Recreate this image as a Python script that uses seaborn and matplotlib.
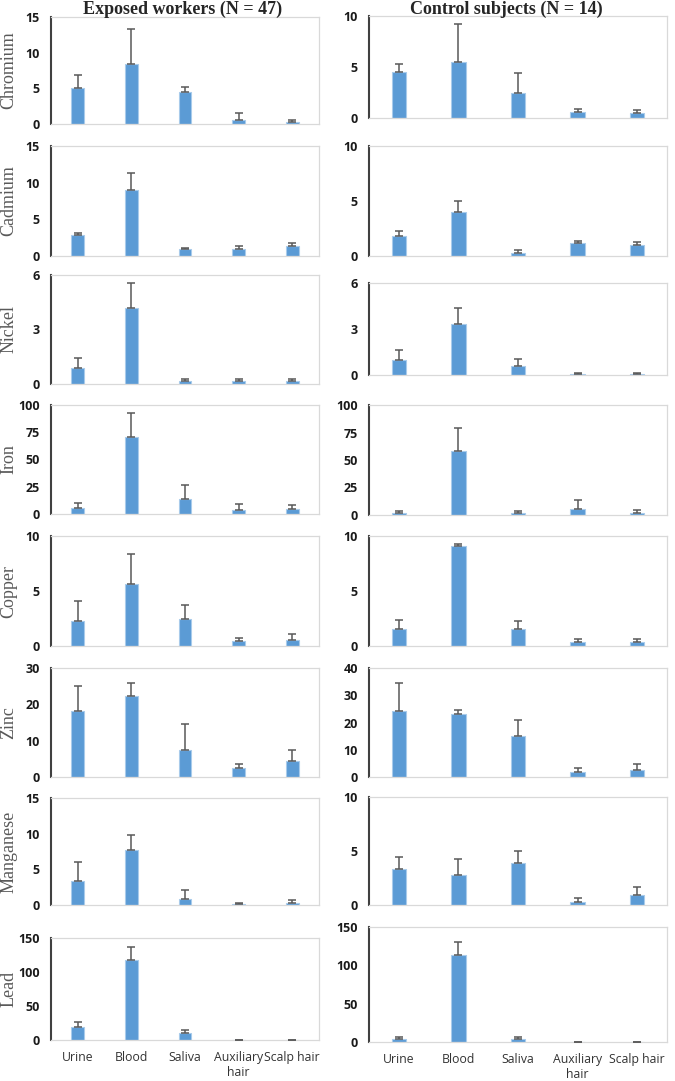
import numpy as np
import pandas as pd
import matplotlib
matplotlib.use('Agg')
import matplotlib.pyplot as plt
import seaborn as sns

# Sample sites (x categories)
sites = ['Urine', 'Blood', 'Saliva', 'Auxiliary\nhair', 'Scalp hair']

# Means and upper SD for exposed workers (N = 47)
cr_exp = [5.1, 8.4, 4.5, 0.5, 0.3]
cr_exp_sd = [1.8, 4.9, 0.7, 1.1, 0.3]
cd_exp = [2.9, 9.0, 1.0, 0.9, 1.4]
cd_exp_sd = [0.3, 2.3, 0.15, 0.5, 0.4]
ni_exp = [0.9, 4.2, 0.15, 0.18, 0.18]
ni_exp_sd = [0.55, 1.35, 0.13, 0.1, 0.1]
fe_exp = [5.5, 71, 13.5, 3.5, 4.5]
fe_exp_sd = [4.5, 22, 13.5, 5.5, 3.5]
cu_exp = [2.3, 5.6, 2.5, 0.5, 0.55]
cu_exp_sd = [1.8, 2.8, 1.2, 0.2, 0.55]
zn_exp = [18.2, 22.3, 7.5, 2.4, 4.4]
zn_exp_sd = [6.8, 3.7, 7.0, 1.2, 3.1]
mn_exp = [3.4, 7.7, 0.8, 0.15, 0.3]
mn_exp_sd = [2.6, 2.1, 1.3, 0.15, 0.4]
pb_exp = [19, 118, 10, 0.5, 0.5]
pb_exp_sd = [8, 19, 4, 0.0, 0.0]

# Means and upper SD for control subjects (N = 14)
cr_ctl = [4.5, 5.5, 2.5, 0.6, 0.45]
cr_ctl_sd = [0.8, 3.7, 1.9, 0.3, 0.3]
cd_ctl = [1.8, 4.0, 0.3, 1.2, 1.0]
cd_ctl_sd = [0.5, 1.0, 0.25, 0.2, 0.25]
ni_ctl = [1.0, 3.3, 0.6, 0.08, 0.08]
ni_ctl_sd = [0.6, 1.1, 0.45, 0.04, 0.04]
fe_ctl = [2.0, 58, 2.0, 5.5, 1.5]
fe_ctl_sd = [1.5, 21, 1.5, 8.5, 3.0]
cu_ctl = [1.55, 9.1, 1.55, 0.4, 0.35]
cu_ctl_sd = [0.8, 0.2, 0.7, 0.2, 0.3]
zn_ctl = [24.2, 23.0, 15.2, 1.7, 2.6]
zn_ctl_sd = [10.3, 1.6, 5.8, 1.5, 2.0]
mn_ctl = [3.3, 2.8, 3.9, 0.3, 0.9]
mn_ctl_sd = [1.1, 1.5, 1.1, 0.35, 0.8]
pb_ctl = [4, 113, 4.5, 0.3, 0.3]
pb_ctl_sd = [3, 17, 2.5, 0.0, 0.0]

metals = ['Chromium', 'Cadmium', 'Nickel', 'Iron', 'Copper', 'Zinc', 'Manganese', 'Lead']
exp_means = [cr_exp, cd_exp, ni_exp, fe_exp, cu_exp, zn_exp, mn_exp, pb_exp]
exp_sds = [cr_exp_sd, cd_exp_sd, ni_exp_sd, fe_exp_sd, cu_exp_sd, zn_exp_sd, mn_exp_sd, pb_exp_sd]
ctl_means = [cr_ctl, cd_ctl, ni_ctl, fe_ctl, cu_ctl, zn_ctl, mn_ctl, pb_ctl]
ctl_sds = [cr_ctl_sd, cd_ctl_sd, ni_ctl_sd, fe_ctl_sd, cu_ctl_sd, zn_ctl_sd, mn_ctl_sd, pb_ctl_sd]

# y ticks for each panel
exp_ticks = [[0, 5, 10, 15], [0, 5, 10, 15], [0, 3, 6], [0, 25, 50, 75, 100],
             [0, 5, 10], [0, 10, 20, 30], [0, 5, 10, 15], [0, 50, 100, 150]]
ctl_ticks = [[0, 5, 10], [0, 5, 10], [0, 3, 6], [0, 25, 50, 75, 100],
             [0, 5, 10], [0, 10, 20, 30, 40], [0, 5, 10], [0, 50, 100, 150]]

sns.set_style('white')
plt.rcParams['font.family'] = ['Open Sans', 'DejaVu Sans']

BAR = '#5B9BD5'
ERR = '#595959'
SERIF = ['Liberation Serif', 'DejaVu Serif']

W, H = 675, 1081
fig = plt.figure(figsize=(W / 100, H / 100), dpi=100)

# panel boxes in pixels (top, bottom)
left_rows = [(17, 124), (146, 256), (275, 384), (405, 514), (536, 646), (668, 777), (798, 905), (938, 1040)]
right_rows = [(16, 118), (146, 256), (283, 375), (405, 515), (536, 646), (668, 777), (797, 905), (927, 1042)]
left_x = (51, 319)
right_x = (369, 667)


def add_ax(x0, x1, top, bottom):
    return fig.add_axes([x0 / W, 1 - bottom / H, (x1 - x0) / W, (bottom - top) / H])


def draw_panel(ax, means, sds, ticks, bottom_row, ylabel=None):
    df = pd.DataFrame({'site': sites, 'value': means})
    sns.barplot(data=df, x='site', y='value', color=BAR, width=0.24,
                edgecolor='#A8CBEB', linewidth=0.8, saturation=1, ax=ax)
    ax.errorbar(np.arange(len(sites)), means, yerr=[np.zeros(len(sds)), sds],
                fmt='none', ecolor=ERR, elinewidth=1.1, capsize=3, capthick=1.1, zorder=3)
    ax.set_xlim(-0.5, len(sites) - 0.5)
    ax.set_ylim(0, ticks[-1])
    ax.set_yticks(ticks)
    ax.set_yticklabels([str(t) for t in ticks], fontsize=9, fontweight='bold', color='#1a1a1a')
    ax.tick_params(axis='both', length=0)
    ax.tick_params(axis='y', pad=8)
    ax.set_xlabel('')
    ax.set_ylabel('')
    if bottom_row:
        ax.set_xticks(np.arange(len(sites)))
        ax.set_xticklabels(sites, fontsize=8.8, color='#333333', linespacing=1.2)
        ax.tick_params(axis='x', pad=8)
    else:
        ax.set_xticklabels([])
    for side in ['top', 'right', 'bottom']:
        ax.spines[side].set_color('#D9D9D9')
        ax.spines[side].set_linewidth(0.9)
    ax.spines['left'].set_color('#404040')
    ax.spines['left'].set_linewidth(1.5)
    if ylabel:
        ax.set_ylabel(ylabel, family=SERIF, fontsize=13, color='#595959')
        ax.yaxis.set_label_coords(-0.125, 0.5)


for i, metal in enumerate(metals):
    last = i == len(metals) - 1
    ax_l = add_ax(left_x[0], left_x[1], *left_rows[i])
    draw_panel(ax_l, exp_means[i], exp_sds[i], exp_ticks[i], last, ylabel=metal)
    ax_r = add_ax(right_x[0], right_x[1], *right_rows[i])
    draw_panel(ax_r, ctl_means[i], ctl_sds[i], ctl_ticks[i], last)

fig.text(183 / W, 1 - 9 / H, 'Exposed workers (N = 47)', ha='center', va='center',
         family=SERIF, fontweight='bold', fontsize=13)
fig.text(506 / W, 1 - 9 / H, 'Control subjects (N = 14)', ha='center', va='center',
         family=SERIF, fontweight='bold', fontsize=13)

plt.savefig('out.png', dpi=100)
